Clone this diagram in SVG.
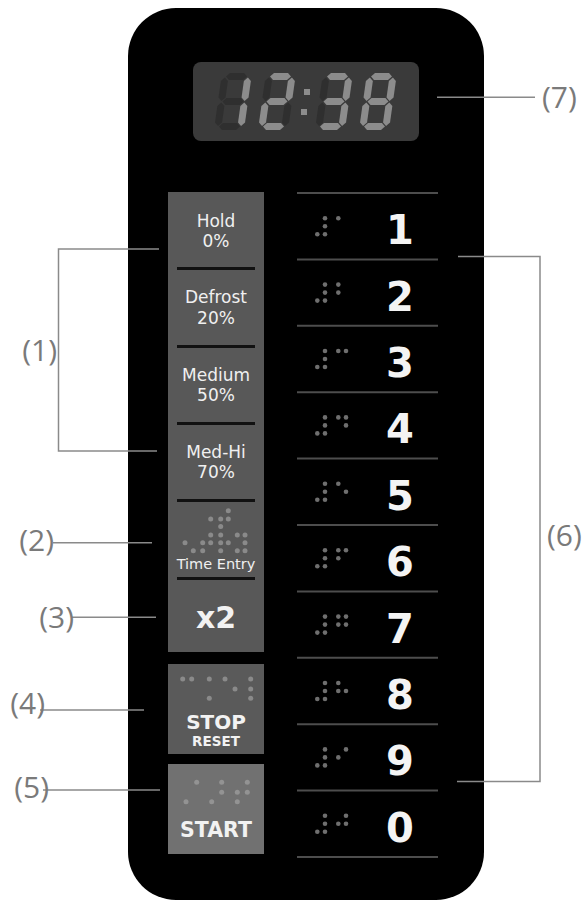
<svg xmlns="http://www.w3.org/2000/svg" xmlns:xlink="http://www.w3.org/1999/xlink" width="586" height="906" viewBox="0 0 586 906">
<style>
.on{fill:#8c8c8c}
.off{fill:#2f2f2f}
.btn{fill:#585858}
.div{fill:#111111}
.bt{font-family:"DejaVu Sans",sans-serif;fill:#f0f0f0;text-anchor:middle;font-size:17px}
.bb{font-family:"DejaVu Sans",sans-serif;font-weight:bold;fill:#f2f2f2;text-anchor:middle}
.num{font-family:"DejaVu Sans",sans-serif;font-weight:bold;fill:#f4f4f4;text-anchor:middle;font-size:40px}
.key{stroke:#4d4d4d;stroke-width:2}
.bd{fill:#6f6f6f}
.bl{fill:#8a8a8a}
.lbl{font-family:"Open Sans","Liberation Sans",sans-serif;font-weight:400;font-size:30px;fill:#7a7a7a}
.ld{stroke:#8a8a8a;stroke-width:1.5;fill:none}
</style>
<defs>
<polygon id="sh" points="0,0 3.5,-3.5 17.5,-3.5 21,0 17.5,3.5 3.5,3.5"/>
<polygon id="sv" points="0,0 3.5,3.5 3.5,20 0,23.5 -3.5,20 -3.5,3.5"/>
<g id="ns" class="bd"><circle cx="325" cy="-8" r="2.3"/><circle cx="325" cy="0" r="2.3"/><circle cx="317.3" cy="8" r="2.3"/><circle cx="325" cy="8" r="2.3"/></g>
</defs>
<rect width="586" height="906" fill="#ffffff"/>
<g id="panel"><rect x="128" y="8" width="356" height="892" rx="48" fill="#000000"/></g>

<g id="display">
<rect x="193" y="62" width="226" height="79" rx="8" fill="#3a3a3a"/>
<g transform="translate(222,73) skewX(-8)">
<use href="#sh" x="4.5" y="3.5" class="off"/><use href="#sh" x="4.5" y="28.5" class="off"/><use href="#sh" x="4.5" y="53.5" class="off"/>
<use href="#sv" x="3.5" y="4.5" class="off"/><use href="#sv" x="3.5" y="29.5" class="off"/>
<use href="#sv" x="26.5" y="4.5" class="on"/><use href="#sv" x="26.5" y="29.5" class="on"/>
</g>
<g transform="translate(266,73) skewX(-8)">
<use href="#sh" x="4.5" y="3.5" class="on"/><use href="#sh" x="4.5" y="28.5" class="on"/><use href="#sh" x="4.5" y="53.5" class="on"/>
<use href="#sv" x="3.5" y="4.5" class="off"/><use href="#sv" x="3.5" y="29.5" class="on"/>
<use href="#sv" x="26.5" y="4.5" class="on"/><use href="#sv" x="26.5" y="29.5" class="off"/>
</g>
<rect x="304" y="89" width="6" height="6" class="on"/>
<rect x="301" y="109" width="6" height="6" class="on"/>
<g transform="translate(323,73) skewX(-8)">
<use href="#sh" x="4.5" y="3.5" class="on"/><use href="#sh" x="4.5" y="28.5" class="on"/><use href="#sh" x="4.5" y="53.5" class="on"/>
<use href="#sv" x="3.5" y="4.5" class="off"/><use href="#sv" x="3.5" y="29.5" class="off"/>
<use href="#sv" x="26.5" y="4.5" class="on"/><use href="#sv" x="26.5" y="29.5" class="on"/>
</g>
<g transform="translate(367,73) skewX(-8)">
<use href="#sh" x="4.5" y="3.5" class="on"/><use href="#sh" x="4.5" y="28.5" class="on"/><use href="#sh" x="4.5" y="53.5" class="on"/>
<use href="#sv" x="3.5" y="4.5" class="on"/><use href="#sv" x="3.5" y="29.5" class="on"/>
<use href="#sv" x="26.5" y="4.5" class="on"/><use href="#sv" x="26.5" y="29.5" class="on"/>
</g>
</g>

<g id="power-buttons">
<rect x="168" y="192" width="96" height="460" class="btn"/>
<rect x="177" y="267" width="78" height="3" class="div"/>
<rect x="177" y="345" width="78" height="3" class="div"/>
<rect x="177" y="422" width="78" height="3" class="div"/>
<rect x="177" y="499" width="78" height="3" class="div"/>
<rect x="177" y="577" width="78" height="3" class="div"/>
<text class="bt" x="216" y="227">Hold</text><text class="bt" x="216" y="247">0%</text>
<text class="bt" x="216" y="303">Defrost</text><text class="bt" x="216" y="324">20%</text>
<text class="bt" x="216" y="381">Medium</text><text class="bt" x="216" y="401">50%</text>
<text class="bt" x="216" y="458">Med-Hi</text><text class="bt" x="216" y="478">70%</text>
</g>
<g id="time-entry">
<g class="bl">
<circle cx="228.3" cy="510.7" r="2.5"/>
<circle cx="210.7" cy="519" r="2.5"/><circle cx="220.7" cy="519" r="2.5"/><circle cx="228.3" cy="519" r="2.5"/>
<circle cx="220.7" cy="526.5" r="2.5"/>
<circle cx="210.7" cy="535" r="2.5"/><circle cx="220.7" cy="535" r="2.5"/><circle cx="237.3" cy="535" r="2.5"/><circle cx="245" cy="535" r="2.5"/>
<circle cx="185" cy="542.7" r="2.5"/><circle cx="202.7" cy="542.7" r="2.5"/><circle cx="210.7" cy="542.7" r="2.5"/><circle cx="220.7" cy="542.7" r="2.5"/><circle cx="228.3" cy="542.7" r="2.5"/><circle cx="245" cy="542.7" r="2.5"/>
<circle cx="193.3" cy="550.7" r="2.5"/><circle cx="202.7" cy="550.7" r="2.5"/><circle cx="220.7" cy="550.7" r="2.5"/><circle cx="237.3" cy="550.7" r="2.5"/><circle cx="245" cy="550.7" r="2.5"/>
</g>
<text class="bt" x="216" y="569" style="font-size:14.5px">Time Entry</text>
</g>
<g id="x2"><text class="bb" x="216" y="628" style="font-size:30px">x2</text></g>

<g id="stop-reset">
<rect x="168" y="664" width="96" height="90" fill="#5a5a5a"/>
<g class="bl">
<circle cx="182.7" cy="679" r="2.5"/><circle cx="191.7" cy="679" r="2.5"/><circle cx="209.3" cy="679" r="2.5"/><circle cx="225" cy="679" r="2.5"/><circle cx="250.7" cy="679" r="2.5"/>
<circle cx="235" cy="689" r="2.5"/><circle cx="250.7" cy="689" r="2.5"/>
<circle cx="209.3" cy="698.3" r="2.5"/><circle cx="250.7" cy="698.3" r="2.5"/>
</g>
<text class="bb" x="216" y="729" style="font-size:20px">STOP</text>
<text class="bb" x="216" y="746" style="font-size:13.5px">RESET</text>
</g>
<g id="start">
<rect x="168" y="764" width="96" height="90" fill="#717171"/>
<g fill="#939393">
<circle cx="196.7" cy="782.3" r="2.5"/><circle cx="221.7" cy="782.3" r="2.5"/><circle cx="247.3" cy="782.3" r="2.5"/>
<circle cx="221.7" cy="792.3" r="2.5"/><circle cx="237.3" cy="792.3" r="2.5"/><circle cx="247.3" cy="792.3" r="2.5"/>
<circle cx="186" cy="801.7" r="2.5"/><circle cx="211.7" cy="801.7" r="2.5"/><circle cx="237.3" cy="801.7" r="2.5"/>
</g>
<text class="bb" x="216" y="837" style="font-size:20.5px">START</text>
</g>

<g id="keypad">
<g class="key">
<line x1="297" y1="193" x2="438" y2="193"/><line x1="297" y1="259.4" x2="438" y2="259.4"/><line x1="297" y1="325.8" x2="438" y2="325.8"/><line x1="297" y1="392.2" x2="438" y2="392.2"/><line x1="297" y1="458.6" x2="438" y2="458.6"/><line x1="297" y1="525" x2="438" y2="525"/><line x1="297" y1="591.4" x2="438" y2="591.4"/><line x1="297" y1="657.8" x2="438" y2="657.8"/><line x1="297" y1="724.2" x2="438" y2="724.2"/><line x1="297" y1="790.6" x2="438" y2="790.6"/><line x1="297" y1="857" x2="438" y2="857"/>
</g>
<g id="key-1" transform="translate(0,226.2)"><use href="#ns"/><g class="bd"><circle cx="338.3" cy="-8" r="2.3"/></g><text class="num" x="400" y="18">1</text></g>
<g id="key-2" transform="translate(0,292.6)"><use href="#ns"/><g class="bd"><circle cx="338.3" cy="-8" r="2.3"/><circle cx="338.3" cy="0" r="2.3"/></g><text class="num" x="400" y="18">2</text></g>
<g id="key-3" transform="translate(0,359)"><use href="#ns"/><g class="bd"><circle cx="338.3" cy="-8" r="2.3"/><circle cx="346" cy="-8" r="2.3"/></g><text class="num" x="400" y="18">3</text></g>
<g id="key-4" transform="translate(0,425.4)"><use href="#ns"/><g class="bd"><circle cx="338.3" cy="-8" r="2.3"/><circle cx="346" cy="-8" r="2.3"/><circle cx="346" cy="0" r="2.3"/></g><text class="num" x="400" y="18">4</text></g>
<g id="key-5" transform="translate(0,491.8)"><use href="#ns"/><g class="bd"><circle cx="338.3" cy="-8" r="2.3"/><circle cx="346" cy="0" r="2.3"/></g><text class="num" x="400" y="18">5</text></g>
<g id="key-6" transform="translate(0,558.2)"><use href="#ns"/><g class="bd"><circle cx="338.3" cy="-8" r="2.3"/><circle cx="346" cy="-8" r="2.3"/><circle cx="338.3" cy="0" r="2.3"/></g><text class="num" x="400" y="18">6</text></g>
<g id="key-7" transform="translate(0,624.6)"><use href="#ns"/><g class="bd"><circle cx="338.3" cy="-8" r="2.3"/><circle cx="346" cy="-8" r="2.3"/><circle cx="338.3" cy="0" r="2.3"/><circle cx="346" cy="0" r="2.3"/></g><text class="num" x="400" y="18">7</text></g>
<g id="key-8" transform="translate(0,691)"><use href="#ns"/><g class="bd"><circle cx="338.3" cy="-8" r="2.3"/><circle cx="338.3" cy="0" r="2.3"/><circle cx="346" cy="0" r="2.3"/></g><text class="num" x="400" y="18">8</text></g>
<g id="key-9" transform="translate(0,757.4)"><use href="#ns"/><g class="bd"><circle cx="346" cy="-8" r="2.3"/><circle cx="338.3" cy="0" r="2.3"/></g><text class="num" x="400" y="18">9</text></g>
<g id="key-0" transform="translate(0,823.8)"><use href="#ns"/><g class="bd"><circle cx="346" cy="-8" r="2.3"/><circle cx="338.3" cy="0" r="2.3"/><circle cx="346" cy="0" r="2.3"/></g><text class="num" x="400" y="18">0</text></g>
</g>

<g id="connectors">
<path class="ld" d="M159,249 H58.5 V451 H157"/>
<path class="ld" d="M53,542.7 H152"/>
<path class="ld" d="M72,617.3 H156"/>
<path class="ld" d="M40,710 H144"/>
<path class="ld" d="M43,790 H160"/>
<path class="ld" d="M458,256.5 H540 V781.5 H457"/>
<path class="ld" d="M437,97.3 H535"/>
</g>
<g id="labels">
<text class="lbl" x="57" y="361" text-anchor="end">(1)</text>
<text class="lbl" x="54" y="551" text-anchor="end">(2)</text>
<text class="lbl" x="74" y="628" text-anchor="end">(3)</text>
<text class="lbl" x="45" y="714" text-anchor="end">(4)</text>
<text class="lbl" x="49" y="798" text-anchor="end">(5)</text>
<text class="lbl" x="547" y="546">(6)</text>
<text class="lbl" x="542" y="108">(7)</text>
</g>
</svg>
